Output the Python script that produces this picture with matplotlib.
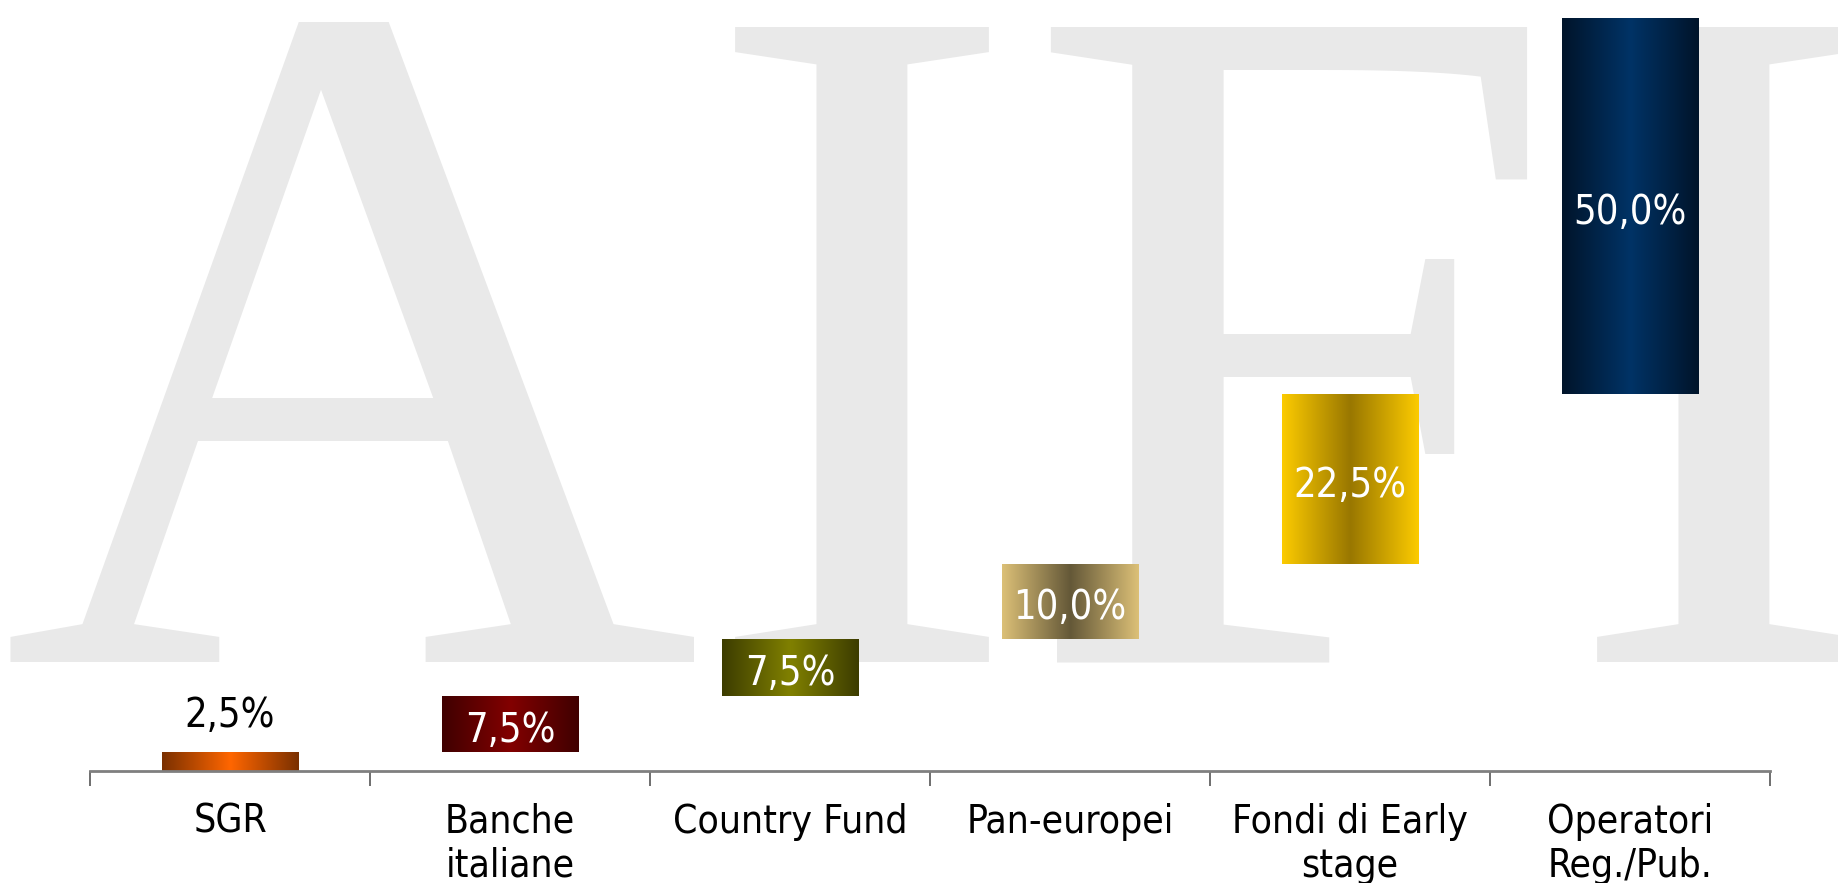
import numpy as np
import matplotlib.pyplot as plt
from matplotlib.colors import LinearSegmentedColormap

# data
categories = ["SGR", "Banche\nitaliane", "Country Fund", "Pan-europei",
              "Fondi di Early\nstage", "Operatori\nReg./Pub."]
values = [2.5, 7.5, 7.5, 10.0, 22.5, 50.0]
# (edge colour, centre colour) of each horizontal gradient
edge_colors = ["#7a3000", "#400000", "#3c3c00", "#dcc077", "#fccb00", "#00142a"]
center_colors = ["#ff6600", "#820000", "#808000", "#645838", "#997700", "#003366"]

bottoms = np.concatenate([[0], np.cumsum(values)[:-1]])
x = np.arange(len(categories))

plt.rcParams["font.family"] = "DejaVu Sans"
plt.rcParams["font.stretch"] = "condensed"

fig = plt.figure(figsize=(18.38, 8.83), dpi=100)
ax = fig.add_axes([0.049, 0.127, 0.914, 0.853])
ax.set_zorder(1)
ax.patch.set_visible(False)

# big watermark behind the chart
fig.text(0.0, 0.2503, "AIFI", fontsize=698, family="Liberation Serif",
         fontstretch="normal", color="#e9e9e9", va="baseline", ha="left", zorder=0)

bars = ax.bar(x, values, bottom=bottoms, width=0.486, color="none", edgecolor="none")

grad = np.linspace(0, 1, 256).reshape(1, -1)
for i, rect in enumerate(bars):
    cmap = LinearSegmentedColormap.from_list(
        "g%d" % i, [(0, edge_colors[i]), (0.5, center_colors[i]), (1, edge_colors[i])])
    x0, y0 = rect.get_x(), rect.get_y()
    w, h = rect.get_width(), rect.get_height()
    im = ax.imshow(grad, cmap=cmap, aspect="auto", extent=[x0, x0 + w, y0, y0 + h],
                   interpolation="bicubic", zorder=2)
    im.set_clip_path(rect)

for i, v in enumerate(values):
    label = ("%.1f%%" % v).replace(".", ",")
    if v < 5:
        ax.text(x[i], bottoms[i] + v + 4.8, label, ha="center", va="center",
                fontsize=28.5, color="black", zorder=3)
    else:
        ax.text(x[i], bottoms[i] + v / 2 - 0.9, label, ha="center", va="center",
                fontsize=28.5, color="white", zorder=3)

ax.set_xlim(-0.5, len(categories) - 0.5)
ax.set_ylim(0, 100)

ax.set_xticks(np.arange(len(categories) + 1) - 0.5)
ax.set_xticklabels([])
ax.set_xticks(x, minor=True)
ax.set_xticklabels(categories, minor=True, fontsize=28, linespacing=1.2)
ax.tick_params(axis="x", which="major", length=11, width=1.2, color="#555555", direction="out")
ax.tick_params(axis="x", which="minor", length=0, pad=23)
ax.set_yticks([])

for s in ["top", "right", "left"]:
    ax.spines[s].set_visible(False)
ax.spines["bottom"].set_color("#7f7f7f")
ax.spines["bottom"].set_linewidth(2)

fig.savefig("out.png", dpi=100)
